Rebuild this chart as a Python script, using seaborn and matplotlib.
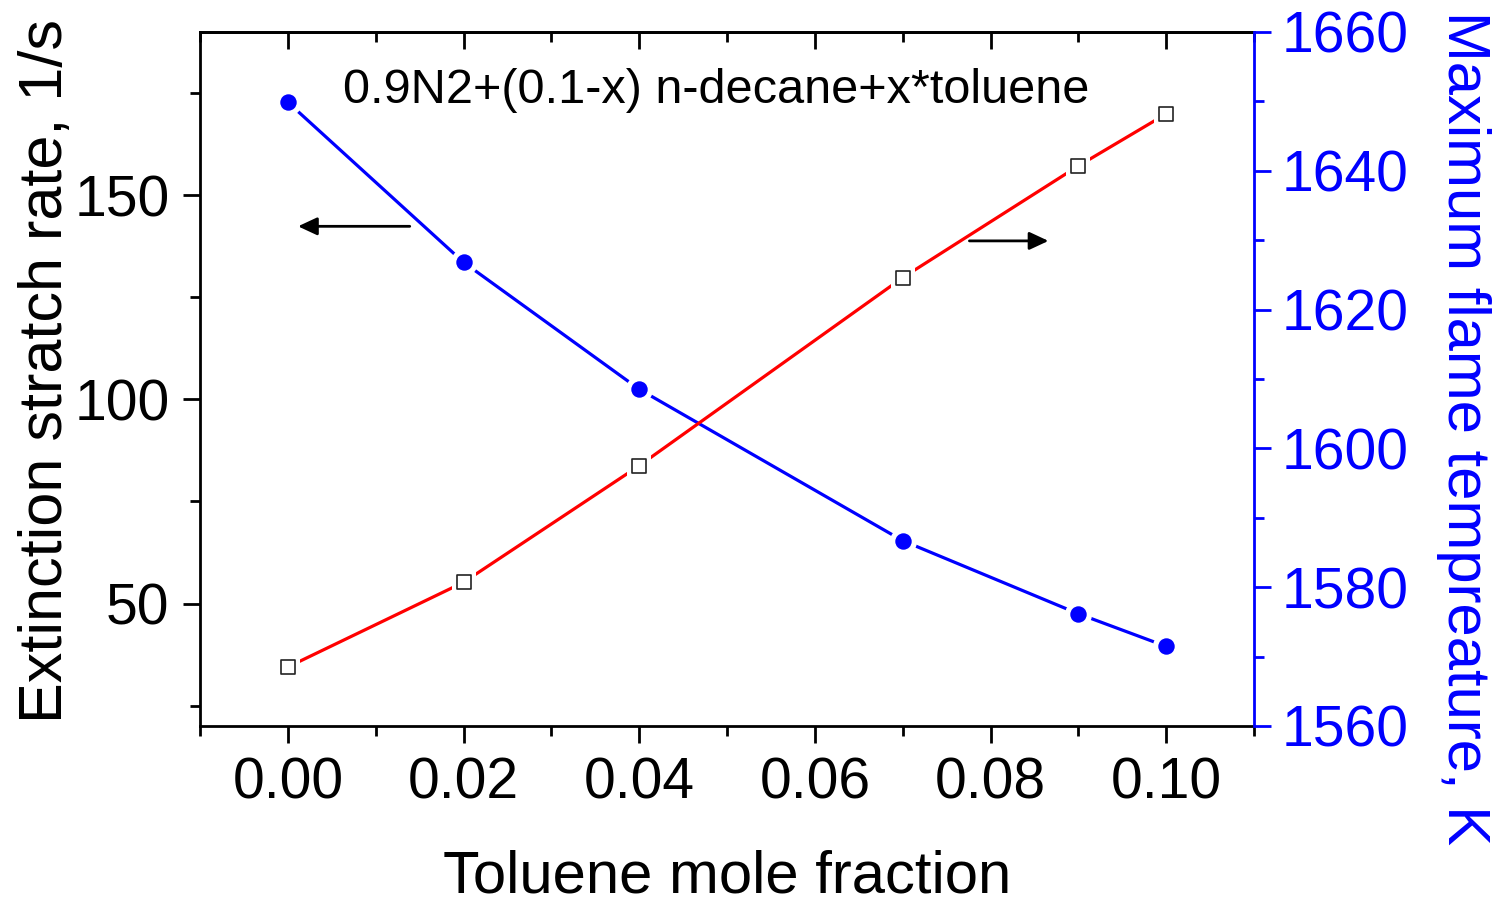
import numpy as np
import pandas as pd
import matplotlib
matplotlib.use("Agg")
import matplotlib.pyplot as plt
from matplotlib.ticker import MultipleLocator, FixedLocator
import seaborn as sns

# ---- data ----
toluene_fraction = [0.00, 0.02, 0.04, 0.07, 0.09, 0.10]
extinction_rate = [172.8, 133.6, 102.5, 65.4, 47.5, 39.5]          # left axis (blue)
max_temperature = [1568.5, 1580.7, 1597.5, 1624.6, 1640.7, 1648.2]  # right axis (red)

x_ticks = [0.00, 0.02, 0.04, 0.06, 0.08, 0.10]
x_tick_labels = ["0.00", "0.02", "0.04", "0.06", "0.08", "0.10"]
left_ticks = [50, 100, 150]
right_ticks = [1560, 1580, 1600, 1620, 1640, 1660]

title_text = "0.9N2+(0.1-x) n-decane+x*toluene"
x_label = "Toluene mole fraction"
left_label = "Extinction stratch rate, 1/s"
right_label = "Maximum flame tempreature, K"

df = pd.DataFrame({"x": toluene_fraction, "rate": extinction_rate, "temp": max_temperature})

sns.set_style("ticks")
plt.rcParams["font.family"] = ["Liberation Sans", "DejaVu Sans"]
plt.rcParams["text.color"] = "black"
plt.rcParams["axes.labelcolor"] = "black"

fig = plt.figure(figsize=(15.01, 9.02), dpi=100)
ax = fig.add_axes([200 / 1501, 1 - 726 / 902, (1254 - 200) / 1501, (726 - 32) / 902])
ax2 = ax.twinx()

BLUE = "#0000ff"
RED = "#ff0000"

# blue series on left axis
sns.lineplot(data=df, x="x", y="rate", ax=ax, color=BLUE, linewidth=2.3, zorder=2)
sns.scatterplot(data=df, x="x", y="rate", ax=ax, color="white", s=380, marker="o",
                linewidth=0, zorder=3)
sns.scatterplot(data=df, x="x", y="rate", ax=ax, color=BLUE, s=140, marker="o",
                linewidth=0, zorder=4)

# red series on right axis
sns.lineplot(data=df, x="x", y="temp", ax=ax2, color=RED, linewidth=2.3, zorder=2)
sns.scatterplot(data=df, x="x", y="temp", ax=ax2, color="white", s=300, marker="s",
                linewidth=0, zorder=3)
sns.scatterplot(data=df, x="x", y="temp", ax=ax2, color="white", edgecolor="#222222",
                s=100, marker="s", linewidth=1.2, zorder=4)

ax.set_xlim(-0.01, 0.11)
ax.set_ylim(20, 190)
ax2.set_ylim(1560, 1660)

TICK_FS = 41
LABEL_FS = 44
ax.set_xticks(x_ticks)
ax.set_xticklabels(x_tick_labels)
ax.xaxis.set_minor_locator(MultipleLocator(0.01))
ax.set_yticks(left_ticks)
ax.yaxis.set_minor_locator(FixedLocator([25, 75, 125, 175]))
ax2.set_yticks(right_ticks)
ax2.yaxis.set_minor_locator(FixedLocator([1570, 1590, 1610, 1630, 1650]))

ax.tick_params(axis="x", which="major", direction="out", length=12, width=2,
               labelsize=TICK_FS, pad=10, top=False, colors="black")
ax.tick_params(axis="x", which="minor", direction="out", length=7, width=2, top=False,
               colors="black")
ax.tick_params(axis="y", which="major", direction="out", length=12, width=2,
               labelsize=TICK_FS, pad=10, right=False, colors="black")
ax.tick_params(axis="y", which="minor", direction="out", length=7, width=2, right=False,
               colors="black")

ax2.tick_params(axis="y", which="major", direction="out", length=12, width=2,
                labelsize=TICK_FS, pad=8, colors=BLUE, left=False)
ax2.tick_params(axis="y", which="minor", direction="out", length=7, width=2,
                colors=BLUE, left=False)

# top inward ticks
secax = ax.secondary_xaxis("top")
secax.set_xticks(x_ticks)
secax.xaxis.set_minor_locator(MultipleLocator(0.01))
secax.tick_params(axis="x", which="major", direction="in", length=12, width=2,
                  labeltop=False, colors="black")
secax.tick_params(axis="x", which="minor", direction="in", length=7, width=2, colors="black")
secax.spines["top"].set_linewidth(2)
secax.spines["top"].set_color("black")

for s in ["left", "bottom", "top"]:
    ax.spines[s].set_linewidth(2)
    ax.spines[s].set_color("black")
ax.spines["right"].set_visible(False)
for s in ["left", "bottom", "top"]:
    ax2.spines[s].set_visible(False)
ax2.spines["right"].set_linewidth(2)
ax2.spines["right"].set_color(BLUE)

ax.set_xlabel(x_label, fontsize=43, rotation_mode="anchor", ha="center", va="baseline")
ax.xaxis.set_label_coords(0.5, -0.2405)
ax.set_ylabel(left_label, fontsize=LABEL_FS, rotation=90, rotation_mode="anchor",
              ha="center", va="baseline")
ax.yaxis.set_label_coords(-0.131, 0.5115)
ax2.set_ylabel(right_label, fontsize=43, color=BLUE, rotation=-90,
               rotation_mode="anchor", ha="center", va="baseline")
ax2.yaxis.set_label_coords(1.184, 0.430)

ax.text(0.49, 0.898, title_text, transform=ax.transAxes, fontsize=35,
        ha="center", va="baseline", color="black")

arrow_kw = dict(arrowstyle="-|>,head_length=0.58,head_width=0.27", color="black", lw=2,
                shrinkA=0, shrinkB=0, mutation_scale=20)
ax.annotate("", xy=(0.093, 0.720), xytext=(0.199, 0.720), xycoords="axes fraction",
            textcoords="axes fraction", arrowprops=arrow_kw)
ax.annotate("", xy=(0.805, 0.699), xytext=(0.730, 0.699), xycoords="axes fraction",
            textcoords="axes fraction", arrowprops=arrow_kw)

fig.savefig("out.png", dpi=100)
